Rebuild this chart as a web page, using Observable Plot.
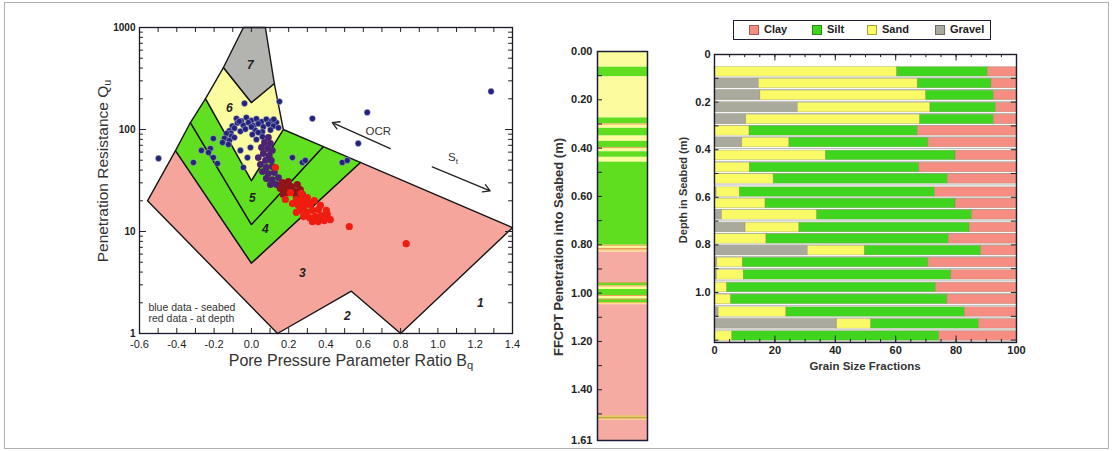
<!DOCTYPE html>
<html><head><meta charset="utf-8">
<script src="https://cdn.jsdelivr.net/npm/d3@7"></script>
<script src="https://cdn.jsdelivr.net/npm/@observablehq/plot@0.6"></script>
<style>
body{margin:0;background:#fff;font-family:"Liberation Sans",Arial,sans-serif;}
#wrap{position:relative;width:1113px;height:451px;overflow:hidden;background:#fff;}
.abs{position:absolute;}
.rot{position:absolute;white-space:nowrap;transform:translate(-50%,-50%) rotate(-90deg);}
.hz{position:absolute;white-space:nowrap;transform:translate(-50%,-50%);}
sub{font-size:70%;vertical-align:-0.25em;line-height:0;}
.leg{position:absolute;left:733px;top:20px;width:256px;height:18px;border:1.6px solid #1c1c34;background:#fff;}
.sw{position:absolute;top:4px;width:8px;height:8px;border:1px solid rgba(0,0,0,0.35);}
.lt{position:absolute;top:2px;font:bold 11px "Liberation Sans",Arial,sans-serif;color:#222;}
</style></head><body><div id="wrap"></div>
<script>
// ---------- Left panel: Robertson Bq classification ----------
const zone3 = [[-0.557,20],[-0.407,62],[0,4.9],[0.584,47.5],[1.4,10.9],[0.8,1],[0.536,2.6],[0.14,1]];
const zone4 = [[-0.407,62],[-0.327,117],[0,11.7],[0.386,68],[0.584,47.5],[0,4.9]];
const zone5 = [[-0.327,117],[-0.246,201],[0,31.6],[0.171,100],[0.386,68],[0,11.7]];
const zone6 = [[-0.246,201],[-0.15,405],[0,184],[0.123,282],[0.171,100],[0,31.6]];
const zone7 = [[-0.15,405],[-0.043,1000],[0.075,1000],[0.123,282],[0,184]];
const zoneLabels = ["1","2","3","4","5","6","7"];
const zoneLabelBq = [1.227,0.514,0.273,0.075,0.005,-0.118,-0.005];
const zoneLabelQ = [2.0,1.47,3.9,10.5,21.1,161,424];

// seabed data (blue)
const seabedPts = [
 [-0.498,52],[-0.311,47.5],[-0.268,62.3],[-0.204,81.6],[-0.220,65.1],[-0.230,59.5],[-0.204,53.1],[-0.182,46.4],
 [-0.037,180],[0.150,188],[0.327,128],[0.621,147],[0.573,73],[1.285,236],[0.220,53],[0.273,47.5],[0.289,49.7],[0.487,47.5],[0.514,49.7],
 [-0.080,128],[-0.054,121],[-0.027,131],[0,122],[0.027,127],[0.054,119],[0.080,126],[0.107,121],[0.134,117],
 [-0.102,108],[-0.075,116],[-0.043,110],[-0.016,117],[0.011,109],[0.037,114],[0.064,106],[0.091,113],[0.118,108],[0.145,104],
 [-0.118,97],[-0.091,103],[-0.059,96],[-0.032,101],[0.021,98],[0.059,95],[0.102,99],
 [-0.065,120],[0.0,106],[0.120,126],[-0.110,92],
 [-0.134,91.4],[-0.107,86],[-0.145,82],[-0.118,78],[-0.091,83.5],[-0.155,74.6],[-0.123,71.3],
 [0.005,89.3],[0.037,93.5],[0.027,79.8],[0.059,85],
 [-0.005,66.6],[-0.021,53],[-0.043,42.4],[-0.059,62.3]
];
// transition (purple)
const transitionPts = [
 [0.091,83.5],[0.070,74.6],[0.102,72.9],[0.054,66.6],[0.086,65.1],[0.112,62.3],[0.064,58.2],[0.096,55.6],
 [0.037,53.1],[0.075,49.7],[0.107,49.7],[0.048,45.4],[0.080,42.4],[0.112,43.4],[0.059,38.7],[0.091,37.0],
 [0.123,37.9],[0.080,33.1],[0.112,32.3],[0.145,33.8],[0.102,28.9],[0.134,28.9]
];
// at depth, upper (dark red)
const depthDarkPts = [
 [0.166,30.2],[0.198,30.9],[0.182,27.0],[0.214,27.6],[0.246,28.9],[0.155,26.4],
 [0.198,24.1],[0.230,24.7],[0.262,25.8],[0.171,23.1],[0.241,22.0],[0.273,23.1]
];
// at depth (red)
const depthPts = [
 [0.209,24.1],[0.241,20.6],[0.273,20.1],[0.300,21.5],[0.220,18.8],[0.252,18.0],[0.284,17.6],[0.316,18.4],
 [0.262,16.1],[0.295,15.4],[0.327,16.1],[0.359,16.4],[0.279,14.0],[0.311,13.7],[0.343,14.0],[0.375,14.3],
 [0.407,14.7],[0.327,12.5],[0.359,12.5],[0.391,12.8],[0.423,13.1],[0.305,19.2],[0.337,20.1],[0.370,18.0],
 [0.402,16.1],[0.241,15.4],[0.182,20.6],[0.268,23.6],[0.129,42.4],[0.525,11.2],[0.830,7.6]
];
const bqTicks = [-0.6,-0.4,-0.2,0,0.2,0.4,0.6,0.8,1.0,1.2,1.4];
const bqMinor = [-0.6,-0.5,-0.4,-0.3,-0.2,-0.1,0,0.1,0.2,0.3,0.4,0.5,0.6,0.7,0.8,0.9,1.0,1.1,1.2,1.3,1.4];
const qTicks = [1,10,100,1000];
const qMinor = [2,3,4,5,6,7,8,9,20,30,40,50,60,70,80,90,200,300,400,500,600,700,800,900];
const notes = ["blue data - seabed","red data - at depth"];
const noteQ = [1.8,1.4];
const trendLabels = ["OCR","S"];

// ---------- Middle panel: FFCPT soil column ----------
const layerTop =    [0.000,0.065,0.105,0.275,0.300,0.318,0.350,0.372,0.398,0.415,0.438,0.458,0.802,0.815,0.821,0.830,0.957,0.970,0.985,1.010,1.025,1.040,1.048,1.508,1.514,1.520,1.526];
const layerBottom = [0.065,0.105,0.275,0.300,0.318,0.350,0.372,0.398,0.415,0.438,0.458,0.802,0.815,0.821,0.830,0.957,0.970,0.985,1.010,1.025,1.040,1.048,1.508,1.514,1.520,1.526,1.610];
const layerType =   ["Sand","Silt","Sand","Silt","Sand","Silt","Sand","Silt","Sand","Silt","Sand","Silt","Sand","Clay","Sand","Clay","Silt","Sand","Silt","Sand","Silt","Sand","Clay","Sand","Silt","Sand","Clay"];
const colTicks = [0,0.2,0.4,0.6,0.8,1.0,1.2,1.4,1.61];
const colMinor = [0,0.1,0.2,0.3,0.4,0.5,0.6,0.7,0.8,0.9,1.0,1.1,1.2,1.3,1.4,1.5];

// ---------- Right panel: grain size fractions ----------
const sampleDepth = [0.073,0.122,0.172,0.223,0.273,0.321,0.370,0.424,0.475,0.523,0.578,0.626,0.674,0.727,0.775,0.824,0.874,0.926,0.979,1.029,1.082,1.132,1.183];
const gravel = [0,14.7,15.2,27.6,10.5,0,9.2,0,0,0,0.7,0,2.5,10.3,0,30.9,0.9,0.8,0,0,1.4,40.6,0];
const sand   = [60.5,52.6,54.9,43.9,57.6,11.6,15.6,36.9,11.7,19.6,7.7,16.9,31.5,17.8,17.2,18.9,8.5,8.9,4.2,5.5,22.4,11.3,5.9];
const silt   = [30.0,24.4,22.4,21.7,24.4,55.7,46.0,42.9,56.1,57.7,64.6,62.9,51.3,56.4,60.4,38.5,61.4,68.7,69.1,71.6,59.1,35.7,68.5];
const clay   = [9.5,8.3,7.5,6.8,7.5,32.7,29.2,20.2,32.2,22.7,27.0,20.2,14.7,15.5,22.4,11.7,29.2,21.6,26.7,22.9,17.1,12.4,25.6];
const fractionNames = ["Gravel","Sand","Silt","Clay"];
const legendOrder = ["Clay","Silt","Sand","Gravel"];
const xTicksR = [0,20,40,60,80,100];
const xMinorR = [0,5,10,15,20,25,30,35,40,45,50,55,60,65,70,75,80,85,90,95,100];
const yTicksR = [0,0.2,0.4,0.6,0.8,1.0];
const yMinorR = [0.1,0.2,0.3,0.4,0.5,0.6,0.7,0.8,0.9,1.0,1.1,1.2];

// ---------- colours ----------
const zoneFill = {"3":"#f6a59c","4":"#60e020","5":"#60e020","6":"#fbfb9f","7":"#b3b4b0"};
const colFill = {Clay:"#f5aaa2",Silt:"#5ede1e",Sand:"#fcfc9e"};
const barFill = {Clay:"#f58d83",Silt:"#3fd51e",Sand:"#fafa66",Gravel:"#a9a99e"};
const font = "'Liberation Sans', Arial, sans-serif";
const wrap = document.getElementById("wrap");

// ====== LEFT PLOT ======
const qT = 1.12, bT = 0.021, bTM = 0.037;
const zones = [["3",zone3],["4",zone4],["5",zone5],["6",zone6],["7",zone7]];
const leftPlot = Plot.plot({
  width: 540, height: 380,
  marginLeft: 139, marginRight: 28, marginTop: 27, marginBottom: 47,
  style: {fontFamily: font, background: "transparent", color: "#222"},
  x: {domain: [-0.6, 1.4]},
  y: {type: "log", domain: [1, 1000]},
  marks: [
    ...zones.map(([k, pts]) => Plot.line(pts, {x: d => d[0], y: d => d[1], curve: "linear-closed", fill: zoneFill[k], stroke: "#161616", strokeWidth: 1.4})),
    Plot.dot(seabedPts, {x: d => d[0], y: d => d[1], r: 3.1, fill: "#23237a", stroke: "#d8d8f0", strokeWidth: 0.4}),
    Plot.dot(transitionPts, {x: d => d[0], y: d => d[1], r: 3.4, fill: "#4a2472"}),
    Plot.dot(depthDarkPts, {x: d => d[0], y: d => d[1], r: 3.6, fill: "#921418"}),
    Plot.dot(depthPts, {x: d => d[0], y: d => d[1], r: 3.6, fill: "#f01c10"}),
    Plot.text(zoneLabels, {x: (d,i) => zoneLabelBq[i], y: (d,i) => zoneLabelQ[i], text: d => d, fontSize: 12, fontWeight: "bold", fontStyle: "italic", fill: "#222"}),
    Plot.text(notes, {x: -0.552, y: (d,i) => noteQ[i], text: d => d, textAnchor: "start", fontSize: 10.5, fill: "#333"}),
    Plot.arrow([0], {x1: 0.745, y1: 65, x2: 0.434, y2: 117, stroke: "#222", strokeWidth: 1.3, headLength: 9}),
    Plot.arrow([0], {x1: 0.97, y1: 43, x2: 1.28, y2: 25, stroke: "#222", strokeWidth: 1.3, headLength: 9}),
    Plot.text([trendLabels[0]], {x: 0.68, y: 95.5, text: d => d, fontSize: 11.5, fill: "#333"}),
    Plot.text([trendLabels[1]], {x: 1.075, y: 53, text: d => d, fontSize: 11.5, fill: "#333"}),
    Plot.text(["t"], {x: 1.075, y: 53, text: d => d, fontSize: 8, fill: "#333", dx: 5, dy: 4}),
    Plot.ruleX(bqMinor, {x: d => d, y1: 1, y2: qT, stroke: "#222"}),
    Plot.ruleX(bqMinor, {x: d => d, y1: 1000 / qT, y2: 1000, stroke: "#222"}),
    Plot.ruleY(qMinor, {y: d => d, x1: -0.6, x2: -0.6 + bT, stroke: "#222"}),
    Plot.ruleY(qTicks, {y: d => d, x1: -0.6, x2: -0.6 + bTM, stroke: "#222"}),
    Plot.ruleY(qMinor, {y: d => d, x1: 1.4 - bT, x2: 1.4, stroke: "#222"}),
    Plot.ruleY(qTicks, {y: d => d, x1: 1.4 - bTM, x2: 1.4, stroke: "#222"}),
    Plot.frame({stroke: "#1a1a2a", strokeWidth: 1.3}),
    Plot.axisX({ticks: bqTicks, tickFormat: d => (Math.abs(d) < 1e-9 ? 0 : d).toFixed(1), tickSize: 0, tickPadding: 7, fontSize: 11, label: null, fill: "#222"}),
    Plot.axisY({ticks: qTicks, tickFormat: d => String(d), tickSize: 0, tickPadding: 4, fontSize: 10, fontWeight: "bold", label: null, fill: "#222"})
  ]
});
leftPlot.style.position = "absolute"; leftPlot.style.left = "0px"; leftPlot.style.top = "0px";
wrap.appendChild(leftPlot);

// ====== MIDDLE PLOT ======
const layers = layerType.map((t, i) => ({type: t, top: layerTop[i], bottom: layerBottom[i]}));
const midPlot = Plot.plot({
  width: 120, height: 451,
  marginLeft: 57, marginRight: 13, marginTop: 51, marginBottom: 11,
  style: {fontFamily: font, background: "transparent", color: "#222"},
  x: {domain: [0, 1], axis: null},
  y: {domain: [0, 1.61], reverse: true},
  marks: [
    Plot.rect(layers, {x1: 0, x2: 1, y1: "top", y2: "bottom", fill: d => colFill[d.type]}),
    Plot.ruleY(layers.filter(d => d.bottom - d.top < 0.02), {y: "top", stroke: "#e9964e", strokeWidth: 0.9}),
    Plot.ruleY(colMinor, {y: d => d, x1: 0, x2: 0.1, stroke: "#222"}),
    Plot.frame({stroke: "#1c1c3a", strokeWidth: 1.5}),
    Plot.axisY({ticks: colTicks, tickFormat: d => d.toFixed(2), tickSize: 0, tickPadding: 5, fontSize: 11, fontWeight: "bold", label: null, fill: "#222"})
  ]
});
midPlot.style.position = "absolute"; midPlot.style.left = "540px"; midPlot.style.top = "0px";
wrap.appendChild(midPlot);

// ====== RIGHT PLOT ======
const fracs = {Gravel: gravel, Sand: sand, Silt: silt, Clay: clay};
const segs = [];
sampleDepth.forEach((dep, i) => {
  let acc = 0;
  fractionNames.forEach(name => {
    const v = fracs[name][i];
    if (v > 0) segs.push({name, depth: dep, x1: acc, x2: acc + v});
    acc += v;
  });
});
const half = 0.02;
const rightPlot = Plot.plot({
  width: 380, height: 451,
  marginLeft: 54, marginRight: 24, marginTop: 54, marginBottom: 109,
  style: {fontFamily: font, background: "transparent", color: "#222"},
  x: {domain: [0, 100]},
  y: {domain: [0, 1.21], reverse: true},
  marks: [
    Plot.ruleY(sampleDepth, {y: d => d + half + 0.005, stroke: "#b9b9b9", strokeWidth: 1}),
    Plot.rect(segs, {x1: "x1", x2: "x2", y1: d => d.depth - half, y2: d => d.depth + half, fill: d => barFill[d.name], stroke: "#7a7a50", strokeOpacity: 0.45, strokeWidth: 0.6}),
    Plot.ruleX(xMinorR, {x: d => d, y1: 0, y2: 0.013, stroke: "#222"}),
    Plot.ruleX(xTicksR, {x: d => d, y1: 0, y2: 0.027, stroke: "#222"}),
    Plot.ruleX(xMinorR, {x: d => d, y1: 1.21 - 0.013, y2: 1.21, stroke: "#222"}),
    Plot.ruleX(xTicksR, {x: d => d, y1: 1.21 - 0.027, y2: 1.21, stroke: "#222"}),
    Plot.ruleY(yMinorR, {y: d => d, x1: 0, x2: 1.5, stroke: "#222"}),
    Plot.ruleY(yMinorR, {y: d => d, x1: 98.3, x2: 100, stroke: "#222"}),
    Plot.frame({stroke: "#1c1c2a", strokeWidth: 1.4}),
    Plot.axisX({ticks: xTicksR, tickFormat: d => String(d), tickSize: 0, tickPadding: 4, fontSize: 11, fontWeight: "bold", label: null, fill: "#222"}),
    Plot.axisY({ticks: yTicksR, tickFormat: d => d === 0 ? "0" : d.toFixed(1), tickSize: 0, tickPadding: 4, fontSize: 11, fontWeight: "bold", label: null, fill: "#222"})
  ]
});
rightPlot.style.position = "absolute"; rightPlot.style.left = "660px"; rightPlot.style.top = "0px";
wrap.appendChild(rightPlot);

// ====== Titles, labels, legend ======
function addDiv(cls, html, x, y, css) {
  const d = document.createElement("div");
  d.className = cls; d.innerHTML = html;
  d.style.left = x + "px"; d.style.top = y + "px";
  Object.assign(d.style, css || {});
  wrap.appendChild(d);
  return d;
}
addDiv("rot", "Penetration Resistance Q<sub>u</sub>", 103, 171, {fontSize: "15.5px", color: "#333"});
addDiv("hz", "Pore Pressure Parameter Ratio B<sub>q</sub>", 351, 361, {fontSize: "16px", color: "#333"});
addDiv("rot", "FFCPT Penetration into Seabed (m)", 558, 247, {fontSize: "13px", fontWeight: "bold", color: "#333"});
addDiv("rot", "Depth in Seabed (m)", 683, 190, {fontSize: "11px", fontWeight: "bold", color: "#333"});
addDiv("hz", "Grain Size Fractions", 865, 366, {fontSize: "11.5px", fontWeight: "bold", color: "#333"});

const leg = document.createElement("div");
leg.className = "leg";
const swX = [15, 78, 133, 201];
legendOrder.forEach((name, i) => {
  const s = document.createElement("div");
  s.className = "sw"; s.style.left = swX[i] + "px"; s.style.background = barFill[name];
  leg.appendChild(s);
  const t = document.createElement("div");
  t.className = "lt"; t.style.left = (swX[i] + 15) + "px"; t.textContent = name;
  leg.appendChild(t);
});
wrap.appendChild(leg);

const border = document.createElement("div");
border.className = "abs";
Object.assign(border.style, {left: "4px", top: "2px", width: "1103px", height: "445px", border: "1px solid #b0b0b0", pointerEvents: "none"});
wrap.appendChild(border);
</script></body></html>
